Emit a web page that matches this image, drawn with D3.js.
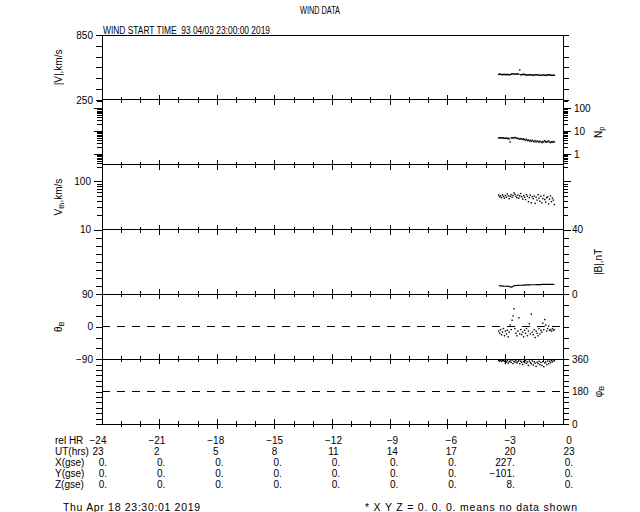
<!DOCTYPE html>
<html>
<head>
<meta charset="utf-8">
<script src="https://cdn.jsdelivr.net/npm/d3@7"></script>
<style>
  body { margin: 0; background: #fff; }
  svg { display: block; font-family: "Liberation Sans", Arial, sans-serif; }
  text { fill: #000; white-space: pre; }
</style>
</head>
<body>
<svg id="chart" width="640" height="512"></svg>
<script>
// ---- data (relative hours before 23:00 UT) ----
var relHours = [-3.35, -3.30, -3.25, -3.20, -3.15, -3.10, -3.05, -3.00, -2.95, -2.90,
  -2.85, -2.80, -2.75, -2.70, -2.65, -2.60, -2.55, -2.50, -2.45, -2.40,
  -2.35, -2.30, -2.25, -2.20, -2.15, -2.10, -2.05, -2.00, -1.95, -1.90,
  -1.85, -1.80, -1.75, -1.70, -1.65, -1.60, -1.55, -1.50, -1.45, -1.40,
  -1.35, -1.30, -1.25, -1.20, -1.15, -1.10, -1.05, -1.00, -0.95, -0.90,
  -0.85, -0.80, -0.75, -0.70, -0.65, -0.60, -0.55, -0.50, -0.45];

var speed = [485, 487, 486, 484, 483, 485, 486, 482, 484, 485,
  483, 481, 484, 487, 490, 491, 489, 487, 488, 490,
  489, 486, 527, 482, 483, 485, 487, 484, 482, 480,
  479, 481, 483, 482, 480, 478, 477, 479, 481, 483,
  482, 480, 478, 477, 476, 478, 480, 479, 477, 476,
  478, 480, 482, 481, 479, 477, 476, 478, 477];

var density = [5.2, 5.1, 5.3, 5.0, 5.2, 5.1, 4.9, 5.0, 5.1, 4.8,
  5.0, 4.6, 3.4, 5.1, 5.3, 5.0, 5.2, 5.4, 5.1, 4.9,
  5.0, 4.7, 4.5, 4.8, 4.6, 4.4, 4.7, 4.3, 4.1, 4.5,
  3.9, 4.2, 3.8, 4.0, 3.6, 4.1, 3.7, 3.5, 3.9, 3.4,
  3.8, 3.6, 3.3, 3.7, 3.5, 3.2, 3.6, 3.4, 3.9, 3.5,
  3.3, 3.6, 3.8, 3.4, 3.2, 3.5, 3.3, 3.6, 3.4];

var thermal = [52, 48, 50, 46, 53, 49, 45, 51, 47, 55,
  50, 44, 49, 53, 47, 51, 58, 54, 49, 46,
  52, 45, 50, 56, 48, 43, 51, 47, 42, 53,
  49, 38, 46, 52, 36, 48, 44, 50, 35, 47,
  41, 53, 45, 39, 49, 36, 44, 51, 42, 37,
  46, 48, 34, 43, 50, 38, 45, 41, 33];

var fieldMag = [5.3, 5.3, 5.2, 5.2, 5.1, 5.1, 5.0, 5.0, 5.0, 5.1,
  5.0, 4.9, 4.6, 4.5, 4.6, 5.0, 5.3, 5.4, 5.4, 5.5,
  5.5, 5.5, 5.6, 5.6, 5.6, 5.7, 5.7, 5.7, 5.7, 5.8,
  5.8, 5.8, 5.8, 5.8, 5.9, 5.9, 5.9, 5.9, 5.9, 6.0,
  6.0, 6.0, 6.0, 6.0, 6.0, 6.1, 6.1, 6.1, 6.1, 6.1,
  6.1, 6.1, 6.1, 6.2, 6.2, 6.2, 6.2, 6.2, 6.2];

var thetaB = [-12, -18, -8, -22, -15, -5, -25, -12, -20, -10,
  -28, -15, 5, -8, 18, 30, 50, -5, -18, -25,
  -12, 25, -20, -8, -22, -15, -28, -10, -18, -5,
  -25, -12, 8, -20, 35, -15, -22, -8, -30, -12,
  -18, -25, -5, -20, -10, -15, 10, -8, 20, 5,
  -12, -5, 2, -10, -8, -12, -5, -10, -8];

var phiB = [352, 350, 354, 348, 351, 353, 349, 340, 345, 352,
  338, 347, 350, 342, 355, 336, 348, 344, 351, 339,
  346, 352, 335, 349, 343, 330, 347, 341, 352, 337,
  345, 325, 349, 340, 334, 350, 328, 345, 338, 320,
  343, 335, 348, 330, 342, 325, 346, 318, 339, 344,
  330, 350, 335, 348, 340, 352, 345, 355, 350];

// ---- tick values ----
var hourTicks = d3.range(-24, 1);
var speedTicks = [250, 350, 450, 550, 650, 750, 850];
var speedLabels = [250, 850];
var densityMinor = [0.4, 0.5, 0.6, 0.7, 0.8, 0.9, 2, 3, 4, 5, 6, 7, 8, 9,
  20, 30, 40, 50, 60, 70, 80, 90, 200];
var densityDecades = [1, 10, 100];
var thermalMinor = [20, 30, 40, 50, 60, 70, 80, 90, 200];
var thermalDecades = [10, 100];
var fieldTicks = [0, 5, 10, 15, 20, 25, 30, 35, 40];
var fieldLabels = [0, 40];
var thetaTicks = [-90, -60, -30, 0, 30, 60, 90];
var thetaLabels = [-90, 0, 90];
var phiTicks = [0, 30, 60, 90, 120, 150, 180, 210, 240, 270, 300, 330, 360];
var phiLabels = [0, 180, 360];

// ---- position table ----
var tableRelHr = [-24, -21, -18, -15, -12, -9, -6, -3, 0];
var tableUT = [23, 2, 5, 8, 11, 14, 17, 20, 23];
var tableX = [0, 0, 0, 0, 0, 0, 0, 227, 0];
var tableY = [0, 0, 0, 0, 0, 0, 0, -101, 0];
var tableZ = [0, 0, 0, 0, 0, 0, 0, 8, 0];

var svg = d3.select('#chart'),
    plotLeft = 102,
    plotRight = 563,
    plotTop = 35,
    plotBottom = 424,
    panelHeight = (plotBottom - plotTop) / 6,
    fontSize = 10,
    x = d3.scaleLinear().domain([-24, 0]).range([plotLeft, plotRight]);

var minus = function (v) { return String(v).replace('-', '\u2212'); };

var panels = [
  {log: false, domain: [250, 850], ticks: speedTicks, labels: speedLabels,
   side: 'left', title: [['|V|,km/s']], values: speed, mark: 'dot'},
  {log: true, domain: [0.35, 235], minor: densityMinor, ticks: densityDecades,
   labels: densityDecades, side: 'right', title: [['N'], ['p', 'sub']],
   values: density, mark: 'dot'},
  {log: true, domain: [10, 224], minor: thermalMinor, ticks: thermalDecades,
   labels: thermalDecades, side: 'left', title: [['V'], ['th', 'sub'], [',km/s']],
   values: thermal, mark: 'dot'},
  {log: false, domain: [0, 40], ticks: fieldTicks, labels: fieldLabels,
   side: 'right', title: [['|B|,nT']], values: fieldMag, mark: 'line'},
  {log: false, domain: [-90, 90], ticks: thetaTicks, labels: thetaLabels,
   side: 'left', title: [['\u03b8'], ['B', 'sub']], values: thetaB, mark: 'dot',
   dashAt: 0},
  {log: false, domain: [0, 360], ticks: phiTicks, labels: phiLabels,
   side: 'right', title: [['\u03c6'], ['B', 'sub']], values: phiB, mark: 'dot',
   dashAt: 180}
];

function styleAxis(g) {
  g.attr('font-size', null).attr('font-family', null);
  g.selectAll('path, line').attr('stroke', '#000').attr('shape-rendering', 'crispEdges');
  g.selectAll('text').attr('font-size', fontSize + 'px').attr('fill', '#000');
}

function drawYAxis(p, y, side) {
  var gen = (side === 'left') ? d3.axisLeft(y) : d3.axisRight(y),
      xPos = (side === 'left') ? plotLeft : plotRight,
      showLabels = (side === p.side),
      g = svg.append('g').attr('transform', 'translate(' + xPos + ',0)');
  if (p.log) {
    // minor ticks first, then decades on top
    svg.append('g')
      .attr('transform', 'translate(' + xPos + ',0)')
      .call(((side === 'left') ? d3.axisLeft(y) : d3.axisRight(y))
        .tickValues(p.minor.filter(function (v) { return v > p.domain[0] && v < p.domain[1]; }))
        .tickSize(5).tickSizeOuter(0).tickFormat(''))
      .call(styleAxis);
  }
  g.call(gen
      .tickValues(p.ticks)
      .tickSize(p.log ? 8 : 6)
      .tickSizeOuter(0)
      .tickPadding(3)
      .tickFormat(function (d) {
        return (showLabels && p.labels.indexOf(d) !== -1) ? minus(d) : '';
      }))
    .call(styleAxis);
}

function drawTitle(p, top) {
  var tx = (p.side === 'left') ? 62 : 602,
      ty = top + panelHeight / 2,
      t = svg.append('text')
        .attr('transform', 'translate(' + tx + ',' + ty + ') rotate(-90)')
        .attr('text-anchor', 'middle')
        .attr('font-size', fontSize + 'px');
  p.title.forEach(function (part) {
    var span = t.append('tspan').text(part[0]);
    if (part[1] === 'sub') {
      span.attr('font-size', (fontSize * 0.75) + 'px').attr('baseline-shift', '-30%');
    }
  });
}

panels.forEach(function (p, i) {
  var top = plotTop + i * panelHeight,
      bottom = top + panelHeight,
      y = (p.log ? d3.scaleLog() : d3.scaleLinear()).domain(p.domain).range([bottom, top]),
      pts = relHours.map(function (h, k) { return [h, p.values[k]]; });

  // horizontal frame lines
  svg.append('line')
    .attr('x1', plotLeft).attr('x2', plotRight)
    .attr('y1', bottom).attr('y2', bottom)
    .attr('stroke', '#000').attr('shape-rendering', 'crispEdges');
  if (i === 0) {
    svg.append('line')
      .attr('x1', plotLeft).attr('x2', plotRight)
      .attr('y1', top).attr('y2', top)
      .attr('stroke', '#000').attr('shape-rendering', 'crispEdges');
  }

  // hour ticks across the bottom edge
  svg.append('g').selectAll('line')
    .data(hourTicks.slice(1, -1))
    .join('line')
      .attr('x1', function (d) { return x(d); })
      .attr('x2', function (d) { return x(d); })
      .attr('y1', function (d) { return bottom - ((d % 3 === 0) ? 5 : 3); })
      .attr('y2', function (d) { return bottom + ((d % 3 === 0) ? 5 : 3); })
      .attr('stroke', '#000')
      .attr('shape-rendering', 'crispEdges');

  drawYAxis(p, y, 'left');
  drawYAxis(p, y, 'right');
  drawTitle(p, top);

  if (p.dashAt != null) {
    svg.append('line')
      .attr('x1', plotLeft).attr('x2', plotRight)
      .attr('y1', y(p.dashAt)).attr('y2', y(p.dashAt))
      .attr('stroke', '#000')
      .attr('stroke-dasharray', '8,7')
      .attr('shape-rendering', 'crispEdges');
  }

  if (p.mark === 'line') {
    svg.append('path')
      .datum(pts)
      .attr('fill', 'none')
      .attr('stroke', '#000')
      .attr('stroke-width', 1.2)
      .attr('d', d3.line()
        .x(function (d) { return x(d[0]); })
        .y(function (d) { return y(d[1]); }));
  } else {
    svg.append('g').selectAll('rect')
      .data(pts)
      .join('rect')
        .attr('x', function (d) { return x(d[0]) - 0.7; })
        .attr('y', function (d) { return y(d[1]) - 0.7; })
        .attr('width', 1.4)
        .attr('height', 1.4)
        .attr('fill', '#000');
  }
});

// ---- titles (narrower lettering than the axes) ----
svg.append('text')
  .attr('x', 300).attr('y', 14)
  .attr('font-size', fontSize + 'px')
  .attr('textLength', 40)
  .attr('lengthAdjust', 'spacingAndGlyphs')
  .text('WIND DATA');

svg.append('text')
  .attr('x', 103).attr('y', 34)
  .attr('font-size', fontSize + 'px')
  .attr('textLength', 167)
  .attr('lengthAdjust', 'spacingAndGlyphs')
  .text('WIND START TIME  93 04/03 23:00:00 2019');

// ---- position table under the plot ----
var colCenter = d3.scaleLinear().domain([-24, 0]).range([98, 569]),
    colRight = d3.scaleLinear().domain([-24, 0]).range([107, 573]),
    rowLabels = ['rel HR', 'UT(hrs)', 'X(gse)', 'Y(gse)', 'Z(gse)'],
    rowY = d3.scaleLinear().domain([0, 4]).range([444, 488]),
    fmtPos = function (v) { return minus(v) + '.'; };

var table = svg.append('g').attr('font-size', fontSize + 'px');
rowLabels.forEach(function (label, r) {
  table.append('text').attr('x', 55).attr('y', rowY(r)).text(label);
});
table.selectAll('text.rel')
  .data(tableRelHr)
  .join('text')
    .attr('class', 'rel')
    .attr('x', function (d) { return colCenter(d); })
    .attr('y', rowY(0))
    .attr('text-anchor', 'middle')
    .text(function (d) { return minus(d); });
table.selectAll('text.ut')
  .data(tableUT)
  .join('text')
    .attr('class', 'ut')
    .attr('x', function (d, k) { return colCenter(tableRelHr[k]); })
    .attr('y', rowY(1))
    .attr('text-anchor', 'middle')
    .text(function (d) { return d; });
[tableX, tableY, tableZ].forEach(function (vals, r) {
  table.selectAll('text.pos' + r)
    .data(vals)
    .join('text')
      .attr('class', 'pos' + r)
      .attr('x', function (d, k) { return colRight(tableRelHr[k]); })
      .attr('y', rowY(r + 2))
      .attr('text-anchor', 'end')
      .text(fmtPos);
});

// ---- footer ----
svg.append('text')
  .attr('x', 63).attr('y', 511)
  .attr('font-size', '10.5px')
  .attr('textLength', 137)
  .attr('lengthAdjust', 'spacing')
  .text('Thu Apr 18 23:30:01 2019');
svg.append('text')
  .attr('x', 365).attr('y', 511)
  .attr('font-size', '10.5px')
  .attr('textLength', 212)
  .attr('lengthAdjust', 'spacing')
  .text('* X Y Z = 0. 0. 0. means no data shown');
</script>
</body>
</html>
